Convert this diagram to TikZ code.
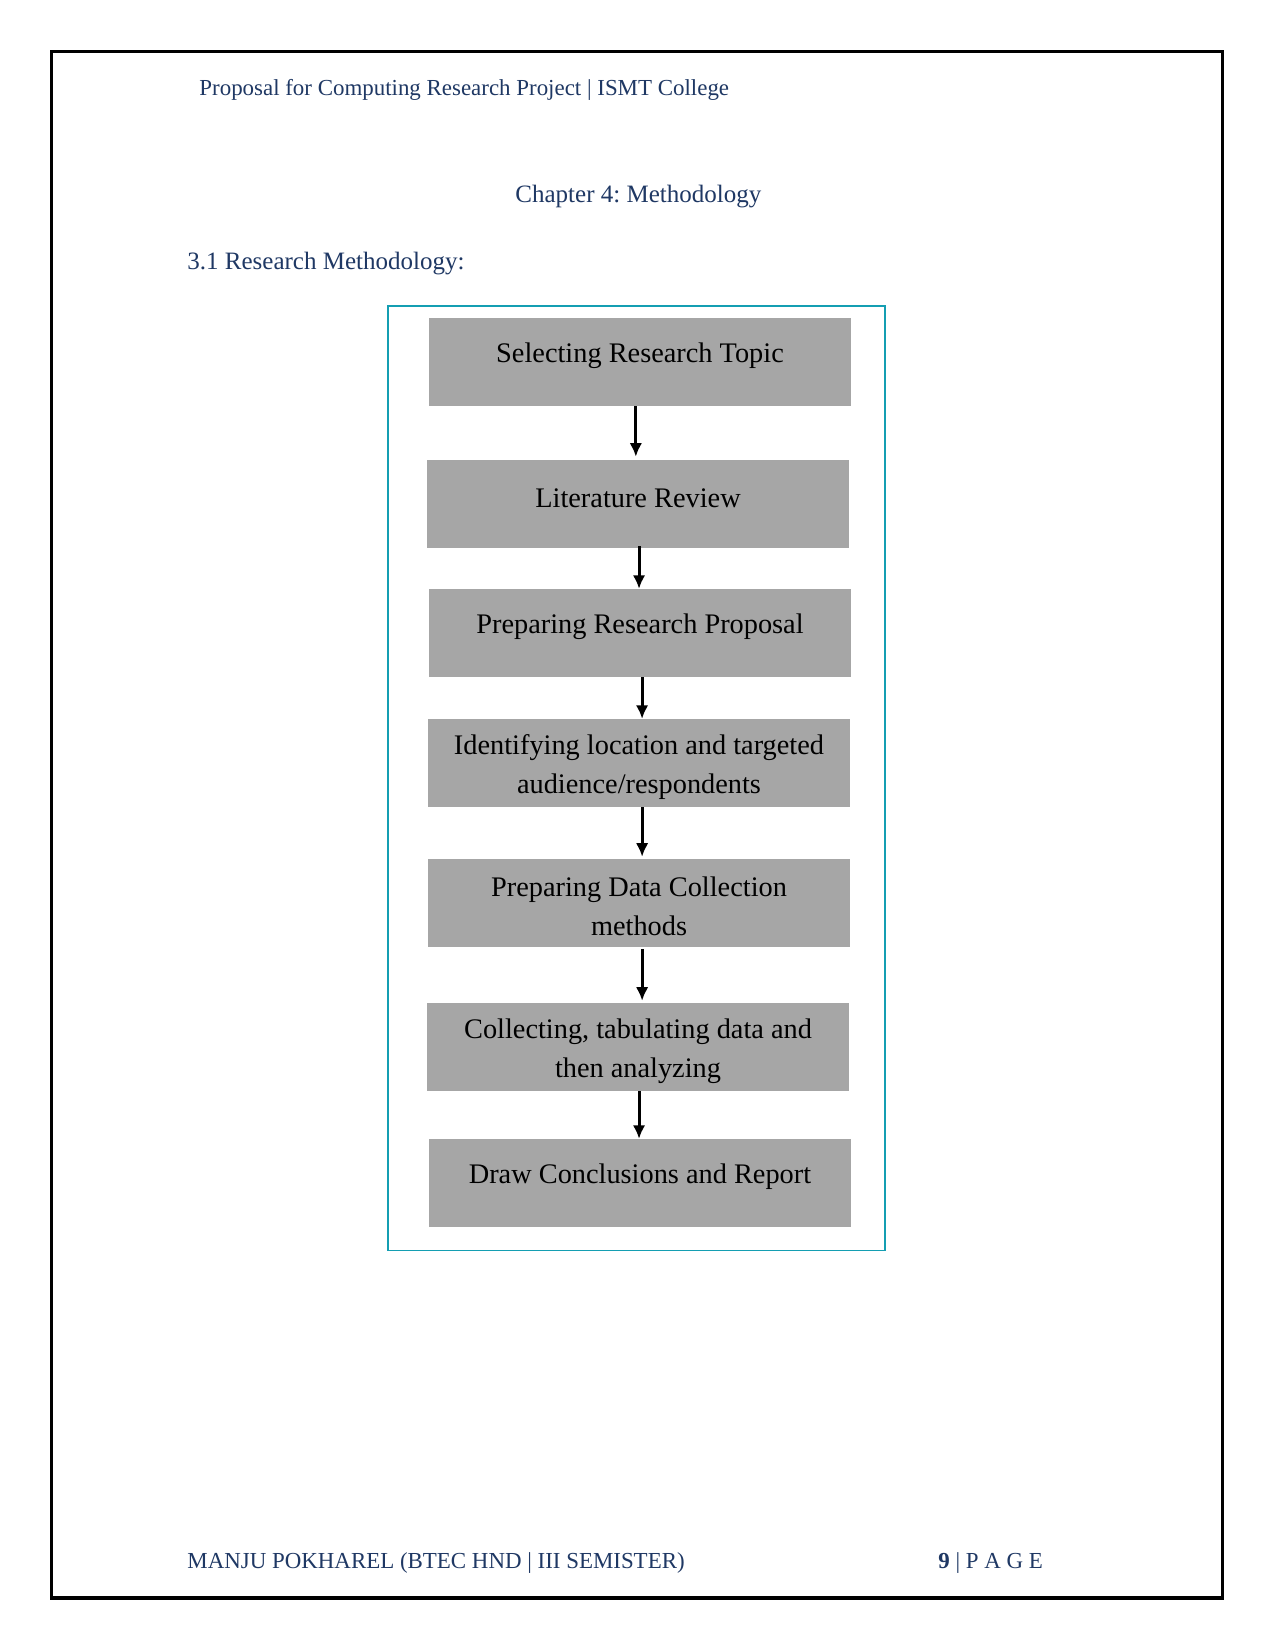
\documentclass[tikz,border=0pt]{standalone}
\usepackage{fontspec}
\setmainfont{Liberation Serif}
\usetikzlibrary{arrows.meta}
\definecolor{navy}{RGB}{31,56,100}
\definecolor{frameteal}{RGB}{20,158,178}
\definecolor{boxgray}{RGB}{166,166,166}
\frenchspacing
\begin{document}
\begin{tikzpicture}[x=0.48pt,y=-0.48pt,
  hdr/.style={text=navy,font=\fontsize{11}{13}\selectfont,inner sep=0pt,anchor=west},
  hdrbig/.style={text=navy,font=\fontsize{12}{14}\selectfont,inner sep=0pt,anchor=west},
  stepbox/.style={fill=boxgray,draw=none,minimum width=203pt,minimum height=42pt,inner sep=0pt},
  steptext/.style={font=\fontsize{13.6}{18.7}\selectfont,align=center,inner sep=0pt,text=black},
  arr/.style={line width=1.4pt,-{Latex[length=6.5pt,width=6pt]}}]
\fill[white] (0,0) rectangle (1275,1651);
\useasboundingbox (0,0) rectangle (1275,1651);
% page frame
\draw[line width=1.6pt] (51.7,51.7) rectangle (1222.5,1598);
% header / titles
\node[hdr] (header) at (199,90) {Proposal for Computing Research Project | ISMT College};
\node[hdrbig] (chapter) at (515,197) {Chapter 4: Methodology};
\node[hdrbig] (section) at (187,264) {3.1 Research Methodology:};
% footer
\node[hdr] (footer) at (187,1563) {MANJU POKHAREL (BTEC HND | III SEMISTER)};
\node[hdr] (pagenum) at (938,1563) {\textbf{9} | P A G E};
% diagram frame
\draw[frameteal,line width=0.85pt] (388,306) rectangle (885,1250.5);
% boxes
\node[stepbox] (b1) at (640,362) {};
\node[stepbox] (b2) at (638,504) {};
\node[stepbox] (b3) at (640,633) {};
\node[stepbox] (b4) at (639,763) {};
\node[stepbox] (b5) at (639,903) {};
\node[stepbox] (b6) at (638,1047) {};
\node[stepbox] (b7) at (640,1183) {};
% texts
\node[steptext] (t1) at (640,356) {Selecting Research Topic};
\node[steptext] (t2) at (638,498) {Literature Review};
\node[steptext] (t3) at (640,627) {Preparing Research Proposal};
\node[steptext] (t4) at (639,767) {Identifying location and targeted\\audience/respondents};
\node[steptext] (t5) at (639,906) {Preparing Data Collection\\methods};
\node[steptext] (t6) at (638,1051) {Collecting, tabulating data and\\then analyzing};
\node[steptext] (t7) at (640,1177) {Draw Conclusions and Report};
% arrows
\draw[arr] ([xshift=-2pt]b1.south) -- ([xshift=-2pt,yshift=1.5pt]b1.south |- b2.north);
\draw[arr] ([xshift=0.5pt,yshift=1pt]b2.south) -- ([xshift=0.5pt]b2.south |- b3.north);
\draw[arr] ([xshift=1pt]b3.south) -- ([xshift=1pt]b3.south |- b4.north);
\draw[arr] ([xshift=1.5pt]b4.south) -- ([xshift=1.5pt,yshift=1pt]b4.south |- b5.north);
\draw[arr] ([xshift=1.5pt,yshift=-1pt]b5.south) -- ([xshift=1.5pt,yshift=1pt]b5.south |- b6.north);
\draw[arr] ([xshift=0.5pt]b6.south) -- ([xshift=0.5pt]b6.south |- b7.north);
\end{tikzpicture}
\end{document}
